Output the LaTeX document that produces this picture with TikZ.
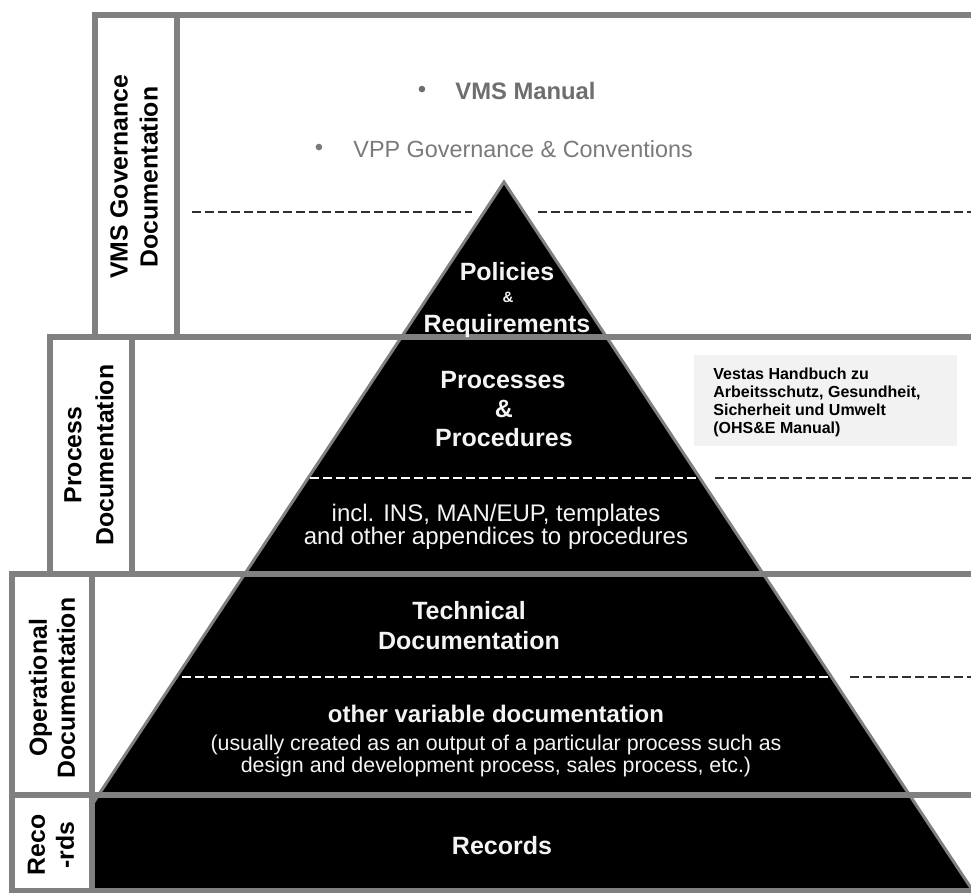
\documentclass[tikz,border=0pt]{standalone}
\usepackage{fontspec}
\setmainfont{Liberation Sans}
\definecolor{framegray}{HTML}{808080}
\definecolor{bulletgray}{HTML}{6E6E6E}
\definecolor{lightgray2}{HTML}{7A7A7A}
\definecolor{boxgray}{HTML}{F2F2F2}
\definecolor{dashgray}{HTML}{303030}
\definecolor{offwhite}{HTML}{F4F4F4}
\begin{document}
\begin{tikzpicture}[x=0.5pt,y=-0.5pt,
  frameline/.style={draw=framegray,line width=3pt,line cap=rect},
  dashout/.style={draw=dashgray,line width=1pt,dash pattern=on 4.5pt off 2pt},
  dashin/.style={draw=white,line width=1pt,dash pattern=on 4.5pt off 2pt},
  sidelabel/.style={rotate=90,align=center,inner sep=0pt,font=\fontsize{12.4}{15}\selectfont\bfseries},
  pyrbig/.style={anchor=base,inner sep=0pt,text=offwhite,font=\fontsize{12.5}{15}\selectfont\bfseries},
  pyrreg/.style={anchor=base,inner sep=0pt,text=offwhite,font=\fontsize{12}{14}\selectfont},
  pyrsmall/.style={anchor=base,inner sep=0pt,text=offwhite,font=\fontsize{10.7}{13}\selectfont},
  vestas/.style={anchor=base west,inner sep=0pt,font=\fontsize{8}{9}\selectfont\bfseries}]
\useasboundingbox (0,0) rectangle (971,893);
\clip (0,0) rectangle (971,893);
\fill[white] (0,0) rectangle (971,893);

% pyramid
\coordinate (apex) at (504,182);
\coordinate (baseL) at (35,891);
\coordinate (baseR) at (973,891);
\fill[black] (apex) -- (baseR) -- (baseL) -- cycle;
\draw[draw=framegray,line width=1.5pt] (baseL) -- (apex) -- (baseR);

% white label columns
\fill[white] (95,15) rectangle (177,337);
\fill[white] (50,337) rectangle (132,574);
\fill[white] (12,574) rectangle (92,891);

% light box
\fill[boxgray] (694,355) rectangle (957,446);

% dashed lines
\coordinate (d1a) at (192,212); \coordinate (d1b) at (472,212);
\coordinate (d1c) at (538,212); \coordinate (d1d) at (971,212);
\draw[dashout] (d1a) -- (d1b);
\draw[dashout] (d1c) -- (d1d);
\coordinate (d2a) at (310,478); \coordinate (d2b) at (698,478);
\coordinate (d2c) at (715,478); \coordinate (d2d) at (971,478);
\draw[dashin] (d2a) -- (d2b);
\draw[dashout] (d2c) -- (d2d);
\coordinate (d3a) at (182,677); \coordinate (d3b) at (830,677);
\coordinate (d3c) at (850,677); \coordinate (d3d) at (971,677);
\draw[dashin] (d3a) -- (d3b);
\draw[dashout] (d3c) -- (d3d);

% frame lines
\draw[frameline] (975,15) -- (95,15) -- (95,337);
\draw[frameline] (177,15) -- (177,337);
\draw[frameline] (975,337) -- (50,337) -- (50,574);
\draw[frameline] (132,337) -- (132,574);
\draw[frameline] (975,574) -- (12,574) -- (12,891) -- (975,891);
\draw[frameline] (92,574) -- (92,891);
\draw[frameline] (12,795) -- (975,795);

% side labels
\node[sidelabel] (lgov) at (134,177) {VMS Governance\\Documentation};
\node[sidelabel,font=\fontsize{12.4}{16}\selectfont\bfseries] (lproc) at (89,455) {Process\\Documentation};
\node[sidelabel,font=\fontsize{12.4}{14}\selectfont\bfseries] (lop) at (52,688) {Operational\\Documentation};
\node[sidelabel,font=\fontsize{12.4}{14.5}\selectfont\bfseries] (lrec) at (51,845) {Reco\\-rds};

% governance bullets
\node[text=bulletgray,inner sep=0pt,font=\fontsize{12}{14}\selectfont] (bul1) at (422,92) {\textbullet};
\node[anchor=base west,inner sep=0pt,text=bulletgray,font=\fontsize{11.9}{14}\selectfont\bfseries] (vmsman) at (455,100) {VMS Manual};
\node[text=lightgray2,inner sep=0pt,font=\fontsize{12}{14}\selectfont] (bul2) at (319,150) {\textbullet};
\node[anchor=base west,inner sep=0pt,text=lightgray2,font=\fontsize{11.7}{14}\selectfont] (vpp) at (353,158) {VPP Governance \& Conventions};

% pyramid texts
\node[pyrbig] (pol) at (507,281) {Policies};
\node[pyrbig,font=\fontsize{7.5}{9}\selectfont\bfseries] (amp1) at (508,303) {\&};
\node[pyrbig] (req) at (507,333) {Requirements};
\node[pyrbig] (proc) at (503,389) {Processes};
\node[pyrbig] (amp2) at (504,418) {\&};
\node[pyrbig] (procd) at (504,447) {Procedures};
\node[pyrreg] (incl1) at (496,522) {incl. INS, MAN/EUP, templates};
\node[pyrreg] (incl2) at (496,545) {and other appendices to procedures};
\node[pyrbig] (tech1) at (469,620) {Technical};
\node[pyrbig] (tech2) at (469,650) {Documentation};
\node[pyrbig,font=\fontsize{12}{14}\selectfont\bfseries] (oth) at (496,723) {other variable documentation};
\node[pyrsmall] (us1) at (496,750) {(usually created as an output of a particular process such as};
\node[pyrsmall] (us2) at (496,772) {design and development process, sales process, etc.)};
\node[pyrbig] (rec) at (502,855) {Records};

% Vestas box text
\node[vestas] (v1) at (713,380) {Vestas Handbuch zu};
\node[vestas] (v2) at (713,398) {Arbeitsschutz, Gesundheit,};
\node[vestas] (v3) at (713,416) {Sicherheit und Umwelt};
\node[vestas] (v4) at (713,434) {(OHS\&E Manual)};
\end{tikzpicture}
\end{document}
